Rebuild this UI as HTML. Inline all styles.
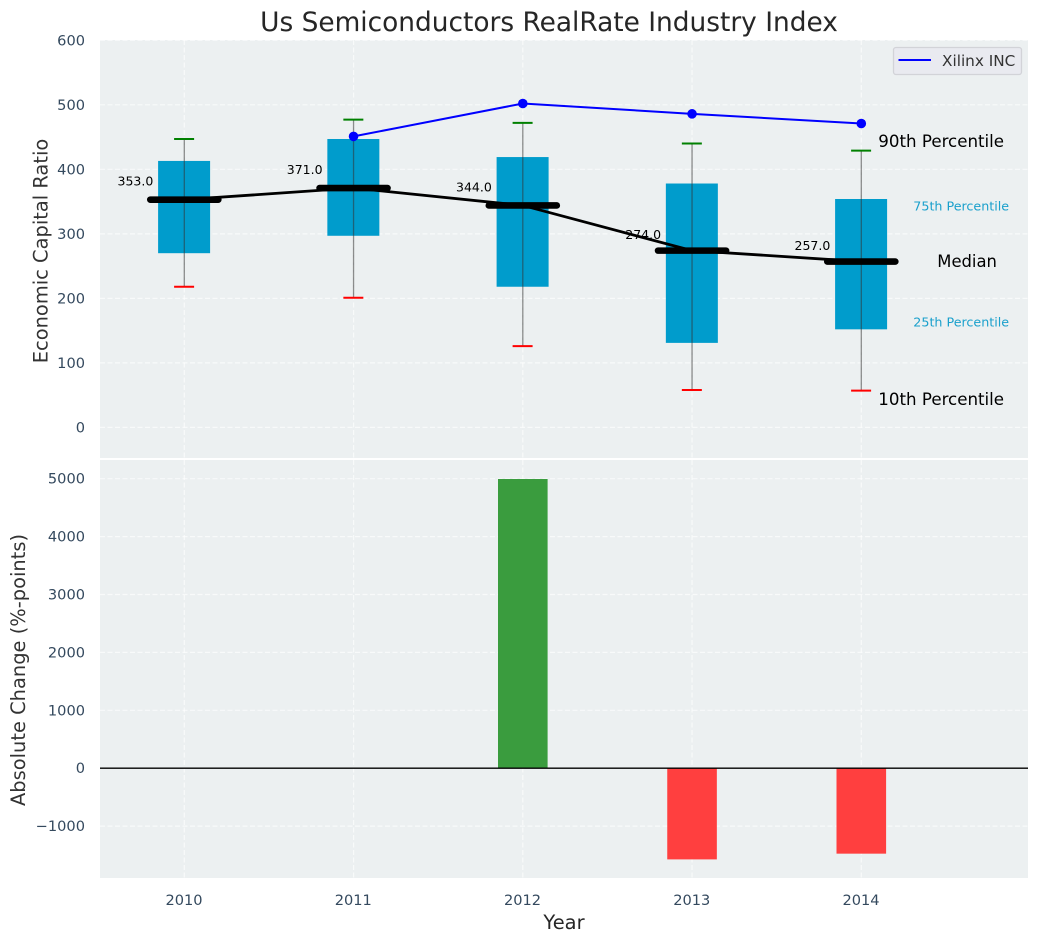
<!DOCTYPE html>
<html lang="en">
<head>
<meta charset="utf-8">
<title>Us Semiconductors RealRate Industry Index</title>
<style>
html,body{margin:0;padding:0;background:#fff;width:1039px;height:942px;overflow:hidden}
svg{display:block;font-family:"DejaVu Sans","Liberation Sans",sans-serif}
</style>
</head>
<body>
<svg id="chart" width="1039" height="942" viewBox="0 0 1039 942" xmlns="http://www.w3.org/2000/svg">
  <rect x="0" y="0" width="1039" height="942" fill="#ffffff"/>
  <rect x="100" y="40" width="928" height="418" fill="#ecf0f1"/>
  <rect x="100" y="460" width="928" height="418" fill="#ecf0f1"/>
  <text x="549" y="31" text-anchor="middle" font-size="26.4" fill="#262626">Us Semiconductors RealRate Industry Index</text>
  <text transform="translate(47.5 251) rotate(-90)" text-anchor="middle" font-size="19.44" fill="#333333">Economic Capital Ratio</text>
  <text transform="translate(25 670) rotate(-90)" text-anchor="middle" font-size="19.44" fill="#333333">Absolute Change (%-points)</text>
  <text x="564" y="929" text-anchor="middle" font-size="19.44" fill="#262626">Year</text>
  <g id="layer-grid"></g>
  <g id="layer-ticks"></g>
  <g id="layer-bars"></g>
  <g id="layer-boxes"></g>
  <g id="layer-lines"></g>
  <g id="layer-labels"></g>
  <g>
    <rect x="893.5" y="47.5" width="128" height="27" rx="2.5" fill="#e9eaf0" stroke="#d2d3d8" stroke-width="1.3"/>
    <line x1="898.5" y1="60" x2="931" y2="60" stroke="#0000ff" stroke-width="2"/>
    <text x="942" y="66" font-size="15.28" fill="#333333">Xilinx INC</text>
  </g>
</svg>
<script>
const years = [2010, 2011, 2012, 2013, 2014];
const p10 = [218, 201, 126, 58, 57];
const p25 = [270, 297, 218, 131, 152];
const medians = [353, 371, 344, 274, 257];
const p75 = [413, 447, 419, 378, 354];
const p90 = [447, 477, 472, 440, 429];
const xilinxYears = [2011, 2012, 2013, 2014];
const xilinxValues = [451, 502, 486, 471];
const changeYears = [2012, 2013, 2014];
const changeValues = [4995, -1575, -1476];
const ratioTicks = [0, 100, 200, 300, 400, 500, 600];
const changeTicks = [-1000, 0, 1000, 2000, 3000, 4000, 5000];

const SVG_NS = 'http://www.w3.org/2000/svg';
function xScale(year) { return 184.3 + (year - 2010) * 169.25; }
function yRatio(v) { return 427.4 - v * 0.6452; }
function yChange(v) { return 768.2 - v * 0.0579; }
function make(tag, parentId, attrs, content) {
  const el = document.createElementNS(SVG_NS, tag);
  for (const k in attrs) el.setAttribute(k, attrs[k]);
  if (content !== undefined) el.textContent = content;
  document.getElementById(parentId).appendChild(el);
  return el;
}
function tickText(v) { return v < 0 ? '\u2212' + Math.abs(v) : String(v); }
const gridStyle = { stroke: '#ffffff', 'stroke-width': 1.2, 'stroke-dasharray': '5 2.5', 'stroke-opacity': 0.65 };
const TICK_SIZE = 14.58;

years.forEach(function (yr) {
  const x = xScale(yr);
  const gridTop = make('line', 'layer-grid', Object.assign({ x1: x, x2: x, y1: 40, y2: 458 }, gridStyle));
  
  
  const gridBottom = make('line', 'layer-grid', Object.assign({ x1: x, x2: x, y1: 460, y2: 878 }, gridStyle));
  
  
  const label = make('text', 'layer-ticks', { x: x - 0.3, y: 905, 'text-anchor': 'middle', 'font-size': TICK_SIZE, fill: '#34495e' }, String(yr));
  
  
});

ratioTicks.forEach(function (v) {
  const y = yRatio(v);
  const grid = make('line', 'layer-grid', Object.assign({ x1: 100, x2: 1028, y1: y, y2: y }, gridStyle));
  
  
  const label = make('text', 'layer-ticks', { x: 85, y: y + 5, 'text-anchor': 'end', 'font-size': TICK_SIZE, fill: '#34495e' }, tickText(v));
  
  
});

changeTicks.forEach(function (v) {
  const y = yChange(v);
  const grid = make('line', 'layer-grid', Object.assign({ x1: 100, x2: 1028, y1: y, y2: y }, gridStyle));
  
  
  const label = make('text', 'layer-ticks', { x: 85, y: y + 5, 'text-anchor': 'end', 'font-size': TICK_SIZE, fill: '#34495e' }, tickText(v));
  
  
});

changeYears.forEach(function (yr, i) {
  const x = xScale(yr);
  const v = changeValues[i];
  const top = yChange(Math.max(v, 0));
  const bottom = yChange(Math.min(v, 0));
  const bar = make('rect', 'layer-bars', { x: x - 24.8, y: top, width: 49.6, height: bottom - top, fill: v >= 0 ? '#3a9c3e' : '#ff3f3f' });
  
  
});
const zeroLine = make('line', 'layer-bars', { x1: 100, x2: 1028, y1: yChange(0), y2: yChange(0), stroke: '#000000', 'stroke-width': 1.3 });



years.forEach(function (yr, i) {
  const x = xScale(yr);
  const box = make('rect', 'layer-boxes', { x: x - 26.2, y: yRatio(p75[i]), width: 52, height: yRatio(p25[i]) - yRatio(p75[i]), fill: '#009ccc' });
  
  
  const whisker = make('line', 'layer-boxes', { x1: x, x2: x, y1: yRatio(p90[i]), y2: yRatio(p10[i]), stroke: '#333333', 'stroke-width': 1.3, 'stroke-opacity': 0.55 });
  
  
  const capTop = make('line', 'layer-boxes', { x1: x - 10.2, x2: x + 9.8, y1: yRatio(p90[i]), y2: yRatio(p90[i]), stroke: '#008000', 'stroke-width': 2 });
  
  
  const capBottom = make('line', 'layer-boxes', { x1: x - 10.2, x2: x + 9.8, y1: yRatio(p10[i]), y2: yRatio(p10[i]), stroke: '#ff0000', 'stroke-width': 2 });
  
  
});

const medianPath = make('polyline', 'layer-lines', {
  points: years.map(function (yr, i) { return xScale(yr) + ',' + yRatio(medians[i]); }).join(' '),
  fill: 'none', stroke: '#000000', 'stroke-width': 2.8
});



years.forEach(function (yr, i) {
  const x = xScale(yr);
  const y = yRatio(medians[i]);
  const bar = make('line', 'layer-lines', { x1: x - 34, x2: x + 34, y1: y, y2: y, stroke: '#000000', 'stroke-width': 6.6, 'stroke-linecap': 'round' });
  
  
  const label = make('text', 'layer-labels', { x: x - 31, y: medians[i] < 300 ? y - 11.5 : y - 14, 'text-anchor': 'end', 'font-size': 12.5, fill: '#000000' }, medians[i].toFixed(1));
  
  
});

const xilinxPath = make('polyline', 'layer-lines', {
  points: xilinxYears.map(function (yr, i) { return xScale(yr) + ',' + yRatio(xilinxValues[i]); }).join(' '),
  fill: 'none', stroke: '#0000ff', 'stroke-width': 2
});


xilinxYears.forEach(function (yr, i) {
  const dot = make('circle', 'layer-lines', { cx: xScale(yr), cy: yRatio(xilinxValues[i]), r: 4.8, fill: '#0000ff' });
  
  
});

const last = years.length - 1;
const lastX = xScale(years[last]);
const l90 = make('text', 'layer-labels', { x: lastX + 17, y: yRatio(p90[last]) - 3.5, 'font-size': 16.67, fill: '#000000' }, '90th Percentile');


const l75 = make('text', 'layer-labels', { x: lastX + 52, y: yRatio(p75[last]) + 11.5, 'font-size': 12.7, fill: '#1aa0cc' }, '75th Percentile');


const lMed = make('text', 'layer-labels', { x: lastX + 76, y: yRatio(medians[last]) + 5.5, 'font-size': 16.4, fill: '#000000' }, 'Median');


const l25 = make('text', 'layer-labels', { x: lastX + 52, y: yRatio(p25[last]) - 3, 'font-size': 12.7, fill: '#1aa0cc' }, '25th Percentile');


const l10 = make('text', 'layer-labels', { x: lastX + 17, y: yRatio(p10[last]) + 14.5, 'font-size': 16.67, fill: '#000000' }, '10th Percentile');


</script>
</body>
</html>
